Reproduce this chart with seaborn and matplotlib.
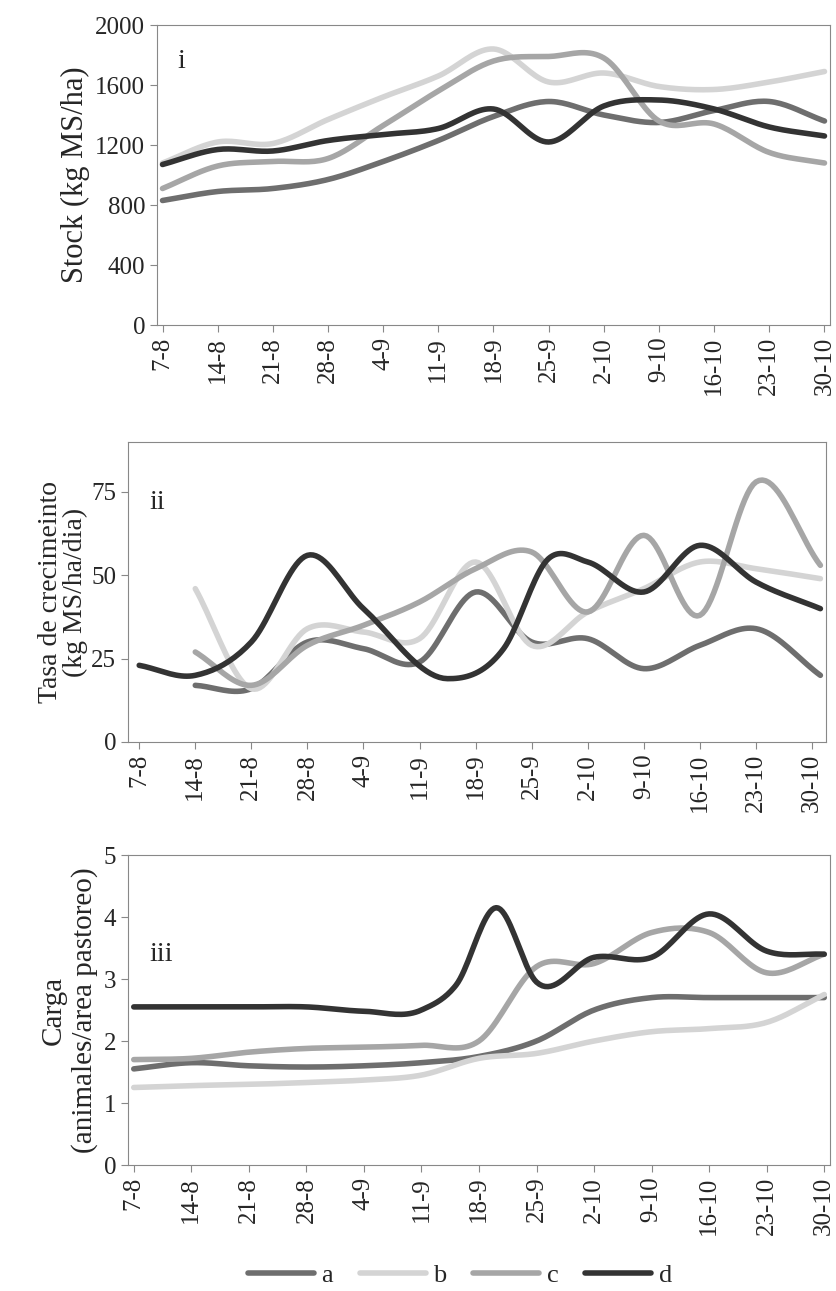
import numpy as np
import matplotlib
matplotlib.use("Agg")
import matplotlib.pyplot as plt
import seaborn as sns
import pandas as pd

sns.set_style("white")
plt.rcParams['font.family'] = ['Liberation Serif', 'DejaVu Serif']

dates = ["7-8","14-8","21-8","28-8","4-9","11-9","18-9","25-9","2-10","9-10","16-10","23-10","30-10"]
names = ["a", "b", "c", "d"]
colors = {"a": "#6e6e6e", "b": "#d4d4d4", "c": "#a6a6a6", "d": "#333333"}

stock_a = [830, 890, 910, 970, 1090, 1230, 1390, 1490, 1400, 1350, 1430, 1490, 1360]
stock_b = [1080, 1220, 1210, 1370, 1520, 1660, 1840, 1620, 1680, 1590, 1570, 1620, 1690]
stock_c = [910, 1060, 1090, 1110, 1330, 1560, 1760, 1790, 1780, 1360, 1340, 1150, 1080]
stock_d = [1070, 1170, 1160, 1230, 1270, 1310, 1440, 1220, 1460, 1500, 1440, 1320, 1260]

tasa_x_abc = [1, 2, 3, 4, 5, 6, 7, 8, 9, 10, 11, 12.15]
tasa_a = [17, 16, 30, 28, 24, 45, 30, 31, 22, 29, 34, 20]
tasa_b = [46, 16, 34, 33, 31, 54, 29, 39, 46, 54, 52, 49]
tasa_c = [27, 17, 29, 35, 42, 52, 57, 39, 62, 38, 78, 53]
tasa_x_d = [0, 1, 2, 3, 4, 5.5, 6.5, 7.3, 8, 9, 10, 11, 12.15]
tasa_d = [23, 20, 30, 56, 40, 19, 28, 55, 54, 45, 59, 48, 40]

carga_x = list(range(13))
carga_a = [1.55, 1.65, 1.6, 1.58, 1.6, 1.65, 1.75, 2.0, 2.5, 2.7, 2.7, 2.7, 2.7]
carga_b = [1.25, 1.28, 1.3, 1.33, 1.37, 1.45, 1.72, 1.8, 2.0, 2.15, 2.2, 2.3, 2.75]
carga_c = [1.7, 1.72, 1.82, 1.88, 1.9, 1.93, 2.0, 3.2, 3.25, 3.75, 3.75, 3.1, 3.4]
carga_x_d = [0, 1, 2, 3, 4, 5, 5.6, 6.3, 7, 8, 9, 10, 11, 12]
carga_d = [2.55, 2.55, 2.55, 2.55, 2.48, 2.5, 2.9, 4.15, 2.95, 3.35, 3.35, 4.05, 3.45, 3.4]


def smooth(x, y, n=20):
    x = np.asarray(x, float); y = np.asarray(y, float)
    m = np.gradient(y, x)
    xs, ys = [], []
    for i in range(len(x) - 1):
        h = x[i+1] - x[i]
        t = np.linspace(0, 1, n, endpoint=False)
        h00 = 2*t**3 - 3*t**2 + 1; h10 = t**3 - 2*t**2 + t
        h01 = -2*t**3 + 3*t**2; h11 = t**3 - t**2
        xs.append(x[i] + t*h)
        ys.append(h00*y[i] + h10*h*m[i] + h01*y[i+1] + h11*h*m[i+1])
    xs.append([x[-1]]); ys.append([y[-1]])
    return np.concatenate(xs), np.concatenate(ys)


def draw(ax, series):
    for name, (x, y) in series.items():
        xs, ys = smooth(x, y)
        df = pd.DataFrame({"x": xs, "y": ys})
        sns.lineplot(data=df, x="x", y="y", ax=ax, color=colors[name], lw=4,
                     label=name, legend=False, sort=False)
    ax.set_xticks(range(13))
    ax.set_xticklabels(dates, rotation=90, fontsize=18)
    ax.tick_params(axis='both', direction='out', length=5, color="#888888", bottom=True, left=True)
    ax.tick_params(axis='y', labelsize=18)
    ax.set_xlabel("")
    for s in ax.spines.values():
        s.set_color("#888888")


fig = plt.figure(figsize=(8.37, 12.91), dpi=100)
ax1 = fig.add_axes([157/837, 1 - 325/1291, 673/837, 300/1291])
ax2 = fig.add_axes([128/837, 1 - 742/1291, 698/837, 300/1291])
ax3 = fig.add_axes([128/837, 1 - 1165/1291, 702/837, 310/1291])

idx = list(range(13))
draw(ax1, {"a": (idx, stock_a), "b": (idx, stock_b), "c": (idx, stock_c), "d": (idx, stock_d)})
ax1.set_xlim(-0.1, 12.1); ax1.set_ylim(0, 2000); ax1.set_yticks(range(0, 2001, 400))
ax1.set_ylabel("Stock (kg MS/ha)", fontsize=22)
ax1.text(0.03, 0.92, "i", transform=ax1.transAxes, fontsize=20, va="top")

draw(ax2, {"a": (tasa_x_abc, tasa_a), "b": (tasa_x_abc, tasa_b),
           "c": (tasa_x_abc, tasa_c), "d": (tasa_x_d, tasa_d)})
ax2.set_xlim(-0.2, 12.25); ax2.set_ylim(0, 90); ax2.set_yticks([0, 25, 50, 75])
ax2.set_ylabel("Tasa de crecimeinto\n(kg MS/ha/dia)", fontsize=20, labelpad=2, linespacing=1.0)
ax2.text(0.03, 0.84, "ii", transform=ax2.transAxes, fontsize=20, va="top")

draw(ax3, {"a": (carga_x, carga_a), "b": (carga_x, carga_b),
           "c": (carga_x, carga_c), "d": (carga_x_d, carga_d)})
ax3.set_xlim(-0.1, 12.1); ax3.set_ylim(0, 5); ax3.set_yticks(range(6))
ax3.set_ylabel("Carga\n(animales/area pastoreo)", fontsize=21)
ax3.text(0.03, 0.72, "iii", transform=ax3.transAxes, fontsize=20, va="top")

handles, labels = ax3.get_legend_handles_labels()
fig.legend(handles, labels, loc="center", bbox_to_anchor=(460/837, 1 - 1275/1291), ncol=4,
           frameon=False, fontsize=19, handlelength=2.5, columnspacing=1.0, handletextpad=0.3)

fig.savefig("out.png", dpi=100)
